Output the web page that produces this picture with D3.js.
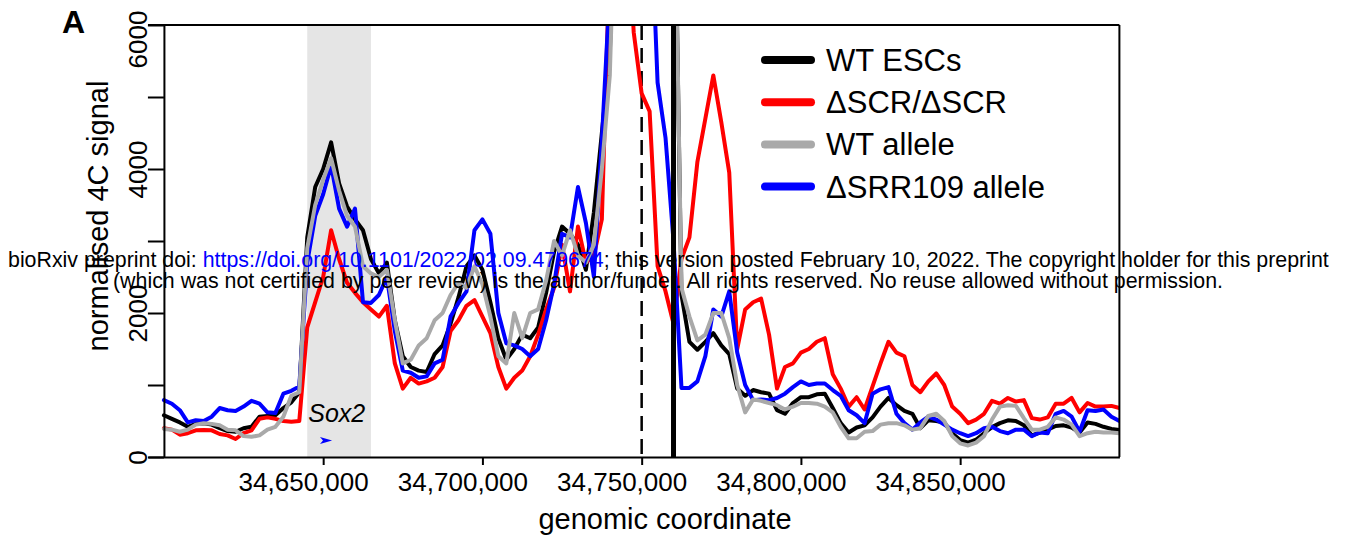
<!DOCTYPE html>
<html>
<head>
<meta charset="utf-8">
<script src="https://cdn.jsdelivr.net/npm/d3@7"></script>
<style>
  body { margin: 0; background: #fff; }
  text { font-family: "Liberation Sans", Arial, sans-serif; }
</style>
</head>
<body>
<div id="my_dataviz"></div>
<script>
// genomic bins (bp)
var positions = [
  34600000, 34602500, 34605000, 34607500, 34610000, 34612500, 34615000, 34617500, 34620000, 34622500,
  34625000, 34627500, 34630000, 34632500, 34635000, 34637500, 34640000, 34642500, 34645000, 34647500,
  34650000, 34652500, 34655000, 34657500, 34660000, 34662500, 34665000, 34667500, 34670000, 34672500,
  34675000, 34677500, 34680000, 34682500, 34685000, 34687500, 34690000, 34692500, 34695000, 34697500,
  34700000, 34702500, 34705000, 34707500, 34710000, 34712500, 34715000, 34717500, 34720000, 34722500,
  34725000, 34727500, 34730000, 34732500, 34735000, 34737500, 34740000, 34742500, 34745000, 34747500,
  34750000, 34752500, 34755000, 34757500, 34760000, 34762500, 34765000, 34767500, 34770000, 34772500,
  34775000, 34777500, 34780000, 34782500, 34785000, 34787500, 34790000, 34792500, 34795000, 34797500,
  34800000, 34802500, 34805000, 34807500, 34810000, 34812500, 34815000, 34817500, 34820000, 34822500,
  34825000, 34827500, 34830000, 34832500, 34835000, 34837500, 34840000, 34842500, 34845000, 34847500,
  34850000, 34852500, 34855000, 34857500, 34860000, 34862500, 34865000, 34867500, 34870000, 34872500,
  34875000, 34877500, 34880000, 34882500, 34885000, 34887500, 34890000, 34892500, 34895000, 34897500,
  34900000
];

// normalised 4C signal per bin
var wtEscs = [
  580, 530, 480, 420, 460, 470, 450, 400, 360, 350,
  400, 420, 560, 570, 580, 680, 760, 900, 3050, 3750,
  4000, 4370, 3800, 3480, 3300, 3150, 2750, 2550, 2700, 1900,
  1400, 1250, 1200, 1180, 1430, 1550, 1850, 2220, 2650, 2800,
  2600, 2150, 1650, 1350, 1500, 1700, 1650, 1800, 2280, 2850,
  3200, 3100, 2950, 2600, 3400, 4500, 5600, 9000, 9000, 9000,
  9000, 9000, 9000, 9000, 9000, 2250, 1600, 1490, 1600, 1720,
  1550, 1430, 950, 850, 930, 900, 880, 650, 600, 750,
  830, 830, 870, 880, 680, 470, 340, 410, 440, 550,
  700, 820, 720, 640, 600, 400, 510, 500, 480, 330,
  235, 200, 240, 330, 415, 470, 510, 500, 440, 300,
  340, 380, 430, 440, 410, 340, 480, 460, 420, 390,
  375
];
var scrHom = [
  400, 380, 310, 330, 370, 375, 370, 320, 300, 250,
  330, 370, 530, 550, 530, 500, 490, 500, 1800, 2150,
  2500, 3150, 2750, 2420, 2280, 2150, 2050, 1950, 2100, 1300,
  950, 1100, 1020, 1050, 1100, 1250, 1750, 1900, 2100, 2180,
  1950, 1720, 1250, 950, 1100, 1200, 1400, 1700, 2050, 2350,
  2950, 2300, 3200, 2700, 2800, 3300, 7000, 9000, 8000, 5900,
  5050, 4800, 2650, 2300, 1850, 2750, 3050, 4100, 4700, 5300,
  4650, 3950, 1500, 2050, 2150, 2200, 1700, 950, 1250, 1300,
  1450, 1500, 1600, 1650, 1150, 950, 700, 830, 660, 980,
  1300, 1600, 1450, 1400, 1000, 900, 1050, 1160, 1000, 700,
  600, 470, 520, 600, 780, 740, 820, 770, 790, 540,
  520, 550, 740, 740, 820, 620, 750, 700, 700, 710,
  680
];
var wtAllele = [
  390, 380, 350, 380, 450, 470, 460, 440, 380, 370,
  290, 280, 300, 380, 420, 560, 850, 900, 2900, 3500,
  3850, 4150, 3700, 3350, 3200, 2650, 2550, 2500, 2600, 1900,
  1300, 1350, 1550, 1650, 1900, 2000, 2250, 2420, 2350, 2650,
  2400, 1950, 1400, 1300, 2000, 1650, 2000, 2050, 2450, 3000,
  2800, 3150, 2800, 2700, 2950, 4000, 5300, 9000, 9000, 9000,
  9000, 9000, 9000, 9000, 9000, 2350, 1950, 1620, 1700, 2000,
  2000, 1650, 1000, 620, 800, 780, 750, 720, 660, 700,
  750, 750, 740, 700, 620, 420, 260, 260, 350, 360,
  450, 470, 470, 440, 380, 400, 570, 600, 500, 290,
  190, 160, 200, 290, 520, 700, 720, 710, 540, 380,
  380, 420, 550, 520, 450, 290, 330, 350, 340, 340,
  330
];
var srrAllele = [
  790, 740, 650, 480, 510, 500, 560, 680, 650, 640,
  700, 780, 740, 620, 610, 880, 920, 980, 2700, 3350,
  3650, 4050, 3450, 3200, 3450, 2150, 2140, 2250, 2500, 1750,
  1200, 1170, 1100, 1120, 1300, 1350, 1950, 2140, 2300, 3150,
  3300, 3100, 2000, 1580, 1550, 1500, 1400, 1500, 1900, 2400,
  3100, 3050, 3750, 3250, 2500, 4400, 6500, 9000, 9000, 9000,
  9000, 8000, 5200, 4430, 3000, 960, 960, 1050, 1400, 2050,
  1950, 2300, 1450, 1000, 790, 800, 790, 820, 880, 970,
  1050, 1000, 1020, 1020, 930, 850, 650, 580, 470, 880,
  940, 970, 600, 470, 380, 480, 560, 520, 450, 380,
  330, 290, 330, 400, 420, 360, 330, 380, 380, 290,
  340, 330, 600, 640, 560, 350, 650, 640, 660, 560,
  500
];

var seriesNames = ["WT ESCs", "\u0394SCR/\u0394SCR", "WT allele", "\u0394SRR109 allele"];
var seriesValues = [wtEscs, scrHom, wtAllele, srrAllele];
var seriesColors = ["#000000", "#ff0000", "#a9a9a9", "#0000ff"];
var drawOrder = [0, 1, 3, 2];

var xTicks = [34650000, 34700000, 34750000, 34800000, 34850000];
var yTicks = [0, 1000, 2000, 3000, 4000, 5000, 6000];
var yLabels = [0, 2000, 4000, 6000];
var sox2Region = [34645000, 34665000];
var sox2Arrow = [34649000, 34652800];
var deletionSite = 34750000;
var viewpoint = 34760000;

// plot box
var boxLeft = 148, boxRight = 1119.4, boxTop = 25, boxBottom = 457;

var svg = d3.select("#my_dataviz")
  .append("svg")
  .attr("width", 1347)
  .attr("height", 540);

var x = d3.scaleLinear().domain([34595000, 34900000]).range([boxLeft, boxRight]);
var y = d3.scaleLinear().domain([0, 6000]).range([boxBottom, boxTop]);

svg.append("clipPath").attr("id", "plotclip")
  .append("rect")
  .attr("x", boxLeft).attr("y", boxTop)
  .attr("width", boxRight - boxLeft).attr("height", boxBottom - boxTop);

// Sox2 shaded region
svg.append("rect")
  .attr("x", x(sox2Region[0]))
  .attr("y", boxTop)
  .attr("width", x(sox2Region[1]) - x(sox2Region[0]))
  .attr("height", boxBottom - boxTop)
  .attr("fill", "#e5e5e5");

// deletion site (dashed)
svg.append("line")
  .attr("x1", x(deletionSite)).attr("x2", x(deletionSite))
  .attr("y1", boxTop).attr("y2", boxBottom)
  .attr("stroke", "#000").attr("stroke-width", 2.5)
  .attr("stroke-dasharray", "15,8");

// signal lines
var lineGen = d3.line()
  .x(function(d, i) { return x(positions[i]); })
  .y(function(d) { return y(d); });
var lines = svg.append("g").attr("clip-path", "url(#plotclip)");
drawOrder.forEach(function(k) {
  lines.append("path")
    .attr("d", lineGen(seriesValues[k]))
    .attr("fill", "none")
    .attr("stroke", seriesColors[k])
    .attr("stroke-width", 4)
    .attr("stroke-linejoin", "round")
    .attr("stroke-linecap", "round");
});

// viewpoint
svg.append("line")
  .attr("x1", x(viewpoint)).attr("x2", x(viewpoint))
  .attr("y1", boxTop).attr("y2", boxBottom)
  .attr("stroke", "#000").attr("stroke-width", 5);

// Sox2 label and gene arrow
svg.append("text")
  .attr("x", x(sox2Region[0]) + 1)
  .attr("y", 422)
  .style("font-size", "25px")
  .style("font-style", "italic")
  .text("Sox2");
var ax0 = x(sox2Arrow[0]), ax1 = x(sox2Arrow[1]);
svg.append("path")
  .attr("d", "M" + ax0 + ",437 L" + ax1 + ",440.5 L" + ax0 + ",444 L" + (ax0 + 3) + ",440.5 Z")
  .attr("fill", "#0000ff");

// box: top, right (bottom comes from the x axis)
svg.append("line").attr("x1", boxLeft).attr("x2", boxRight).attr("y1", boxTop).attr("y2", boxTop)
  .attr("stroke", "#000").attr("stroke-width", 2);
svg.append("line").attr("x1", boxRight).attr("x2", boxRight).attr("y1", boxTop).attr("y2", boxBottom)
  .attr("stroke", "#000").attr("stroke-width", 2);

// X axis
var xAxis = svg.append("g")
  .attr("transform", "translate(0," + boxBottom + ")")
  .call(d3.axisBottom(x).tickValues(xTicks).tickSize(8).tickSizeOuter(0).tickFormat(d3.format(",")));
xAxis.select(".domain").attr("stroke-width", 2);
xAxis.selectAll(".tick line").attr("stroke-width", 2);
xAxis.selectAll(".tick text")
  .attr("x", -20).attr("y", 34).attr("dy", null)
  .attr("fill", "#000")
  .style("font-size", "26px")
  .style("font-family", "'Liberation Sans', Arial, sans-serif");

// Y axis
var yAxis = svg.append("g")
  .attr("transform", "translate(" + x(34600000) + ",0)")
  .call(d3.axisLeft(y).tickValues(yTicks).tickSize(16).tickSizeOuter(0)
    .tickFormat(function(d) { return yLabels.indexOf(d) >= 0 ? d : ""; }));
yAxis.select(".domain").attr("stroke-width", 2);
yAxis.selectAll(".tick line").attr("stroke-width", 2);
yAxis.selectAll(".tick text")
  .attr("x", null).attr("dy", null)
  .attr("text-anchor", "middle")
  .attr("fill", "#000")
  .attr("transform", function(d) { return "translate(-17," + (d === 6000 ? 14 : 0) + ") rotate(-90)"; })
  .style("font-size", "26px")
  .style("font-family", "'Liberation Sans', Arial, sans-serif");

// axis titles
svg.append("text")
  .attr("x", 665).attr("y", 529)
  .attr("text-anchor", "middle")
  .style("font-size", "29px")
  .text("genomic coordinate");
svg.append("text")
  .attr("transform", "translate(108,216) rotate(-90)")
  .attr("text-anchor", "middle")
  .style("font-size", "29px")
  .text("normalised 4C signal");

// panel letter
svg.append("text")
  .attr("x", 62).attr("y", 33)
  .style("font-size", "32px")
  .style("font-weight", "bold")
  .text("A");

// legend
var legend = svg.append("g");
seriesNames.forEach(function(name, i) {
  var ly = 60 + i * 42.2;
  legend.append("line")
    .attr("x1", 765).attr("x2", 811)
    .attr("y1", ly).attr("y2", ly)
    .attr("stroke", seriesColors[i])
    .attr("stroke-width", 8)
    .attr("stroke-linecap", "round");
  legend.append("text")
    .attr("x", 826).attr("y", ly + 11)
    .style("font-size", "31px")
    .text(name);
});

// preprint watermark
var wm1 = svg.append("text").attr("x", 8).attr("y", 267).style("font-size", "18px");
wm1.append("tspan").text("bioRxiv preprint doi: ");
wm1.append("tspan").attr("fill", "#0000ff").text("https://doi.org/10.1101/2022.02.09.479674");
wm1.append("tspan").text("; this version posted February 10, 2022. The copyright holder for this preprint");
var fs = 18 * 1321 / wm1.node().getComputedTextLength();
wm1.style("font-size", fs + "px");
svg.append("text")
  .attr("x", 668).attr("y", 288)
  .attr("text-anchor", "middle")
  .style("font-size", fs + "px")
  .text("(which was not certified by peer review) is the author/funder. All rights reserved. No reuse allowed without permission.");
</script>
</body>
</html>
